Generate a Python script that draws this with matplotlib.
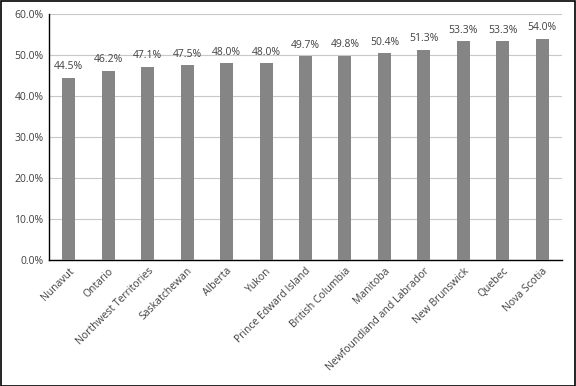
import matplotlib.pyplot as plt
import numpy as np

# Data
provinces = ["Nunavut", "Ontario", "Northwest Territories", "Saskatchewan", "Alberta",
             "Yukon", "Prince Edward Island", "British Columbia", "Manitoba",
             "Newfoundland and Labrador", "New Brunswick", "Quebec", "Nova Scotia"]
shares = [44.5, 46.2, 47.1, 47.5, 48.0, 48.0, 49.7, 49.8, 50.4, 51.3, 53.3, 53.3, 54.0]
yticks = [0, 10, 20, 30, 40, 50, 60]

plt.rcParams['font.family'] = ['Open Sans', 'DejaVu Sans']

fig = plt.figure(figsize=(5.76, 3.86), dpi=100)
ax = fig.add_axes([49/576, 1 - 260/386, (562 - 49)/576, (260 - 14)/386])

x = np.arange(len(provinces))
ax.bar(x, shares, width=0.33, color='#858585', zorder=3)
for xi, v in zip(x, shares):
    ax.annotate(f"{v:.1f}%", (xi, v), xytext=(0, 4), textcoords='offset points',
                ha='center', va='bottom', fontsize=7.5, color='#404040')

ax.set_xlim(-0.5, len(provinces) - 0.5)
ax.set_ylim(0, 60)
ax.set_yticks(yticks)
ax.set_yticklabels([f"{t:.1f}%" for t in yticks], fontsize=7.5, color='#404040')
ax.set_xticks(x)
ax.set_xticklabels(provinces, rotation=45, ha='right', rotation_mode='anchor',
                   fontsize=7.5, color='#404040')
ax.tick_params(length=0, pad=4)
ax.yaxis.grid(True, color='#c8c8c8', linewidth=0.8, zorder=0)
for s in ['top', 'right']:
    ax.spines[s].set_visible(False)
for s in ['left', 'bottom']:
    ax.spines[s].set_color('black')
    ax.spines[s].set_linewidth(1)

# border round the figure
fig.patches.append(plt.Rectangle((0.001, 0.001), 0.998, 0.997, transform=fig.transFigure,
                                 fill=False, edgecolor='black', linewidth=1.2))

fig.savefig("out.png", dpi=100)
